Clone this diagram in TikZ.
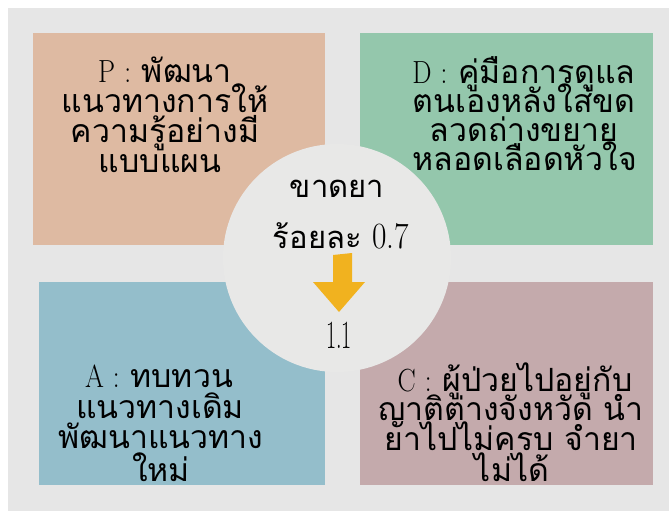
\documentclass[tikz,border=0pt]{standalone}
\usepackage{fontspec}
\usepackage{graphicx}
\newfontfamily\thaifont[Script=Thai]{Loma}
\definecolor{bggray}{HTML}{E6E6E6}
\definecolor{circgray}{HTML}{E8E8E7}
\definecolor{peach}{HTML}{DEBAA2}
\definecolor{mint}{HTML}{94C7AC}
\definecolor{steel}{HTML}{94BECB}
\definecolor{mauve}{HTML}{C4AAAC}
\definecolor{amber}{HTML}{F1B21F}
\tikzset{
  boxtext/.style={anchor=base,inner sep=0pt,font=\thaifont\fontsize{32}{30}\selectfont},
  midtext/.style={anchor=base,inner sep=0pt,font=\thaifont\fontsize{31}{34}\selectfont},
  latin/.style={font=\rmfamily\fontsize{#1}{#1}\selectfont}
}
\newcommand{\lat}[1]{{\rmfamily\scalebox{0.85}[1]{#1}}}
\begin{document}
\begin{tikzpicture}[x=1pt,y=-1pt]
\useasboundingbox (0,0) rectangle (669,511);
\fill[white] (0,0) rectangle (669,511);
\fill[bggray] (8,8) rectangle (669,511);
% quadrants
\fill[peach] (33,33) rectangle (325,245);
\fill[mint]  (360,33) rectangle (653,245);
\fill[steel] (39,282) rectangle (325,485);
\fill[mauve] (360,282) rectangle (653,485);
% centre circle
\fill[circgray] (337,258) circle[radius=114];
% P box
\node[boxtext] (p1) at (165,82)  {\lat{P\,\,:} พัฒนา};
\node[boxtext] (p2) at (165,112) {แนวทางการให้};
\node[boxtext] (p3) at (165,142) {ความรู้อย่างมี};
\node[boxtext] (p4) at (160,172) {แบบแผน};
% D box
\node[boxtext] (d1) at (524,83)  {\lat{D\,\,:} คู่มือการดูแล};
\node[boxtext] (d2) at (524,112) {ตนเองหลังใส่ขด};
\node[boxtext] (d3) at (524,141) {ลวดถ่างขยาย};
\node[boxtext] (d4) at (525,170) {หลอดเลือดหัวใจ};
% A box
\node[boxtext] (a1) at (159,387) {\lat{A\,\,:} ทบทวน};
\node[boxtext] (a2) at (160,418) {แนวทางเดิม};
\node[boxtext] (a3) at (161,448) {พัฒนาแนวทาง};
\node[boxtext] (a4) at (161,481) {ใหม่};
% C box
\node[boxtext] (c1) at (515,391) {\lat{C\,\,:} ผู้ป่วยไปอยู่กับ};
\node[boxtext] (c2) at (511,420) {ญาติต่างจังหวัด นำ};
\node[boxtext] (c3) at (511,450) {ยาไปไม่ครบ จำยา};
\node[boxtext] (c4) at (512,481) {ไม่ได้};
% centre text
\node[midtext] (m1) at (337,197) {ขาดยา};
\node[midtext] (m2) at (341,248) {ร้อยละ {\rmfamily\fontsize{37}{37}\selectfont\scalebox{0.85}[1]{0.7}}};
\node[anchor=base,inner sep=0pt,latin=40] (m3) at (339,348) {\scalebox{0.55}[1]{1.1}};
% arrow
\fill[amber] (333,255) -- (352,253) -- (352,282) -- (365,282) -- (339,312)
  -- (313,282) -- (333,282) -- cycle;
\end{tikzpicture}
\end{document}
